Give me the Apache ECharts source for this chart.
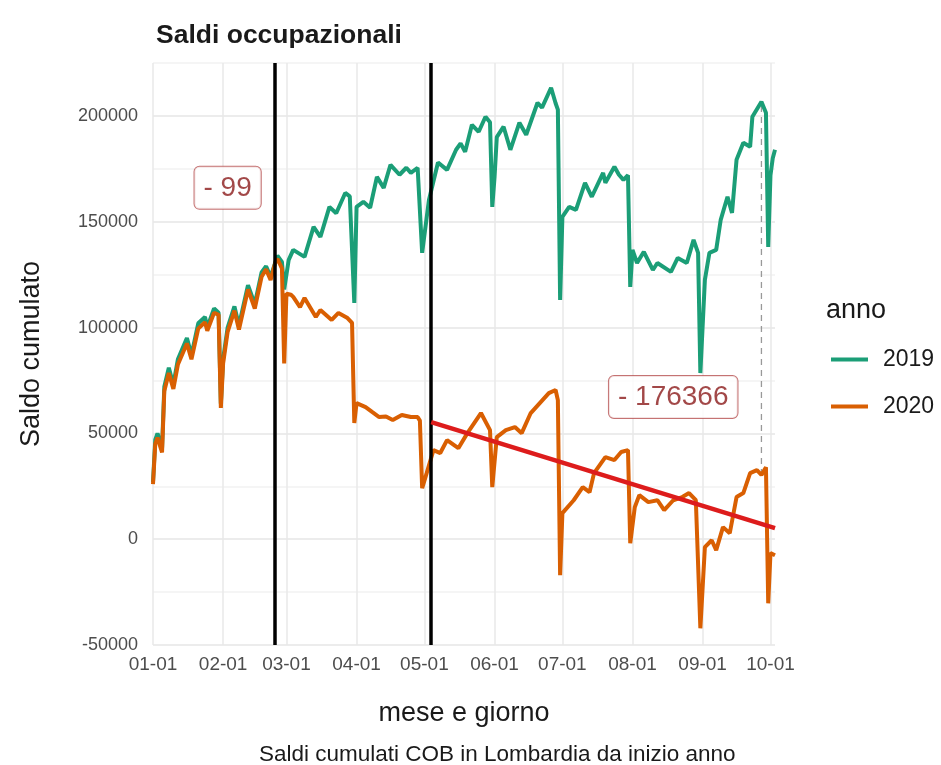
<!DOCTYPE html>
<html lang="it">
<head>
<meta charset="UTF-8" />
<title>Saldi occupazionali</title>
<script src="https://cdn.jsdelivr.net/npm/echarts@6/dist/echarts.min.js"></script>
<style>
  html, body { margin: 0; padding: 0; background: #fff; }
  #chart { width: 941px; height: 765px; }
</style>
</head>
<body>
<div id="chart"></div>
<script>
// giorni dell'anno (calendario non bisestile) fino al 3 ottobre
const monthLengths = [31, 28, 31, 30, 31, 30, 31, 31, 30, 31];
const pad = (n) => String(n).padStart(2, "0");
const days = [];
monthLengths.forEach((len, m) => {
  for (let d = 1; d <= len; d++) days.push(pad(m + 1) + "-" + pad(d));
});
days.length = days.indexOf("10-03") + 1;

// saldo cumulato 2019 [mese-giorno, valore]
const saldo2019 = [
  ["01-01", 27000], ["01-02", 47000], ["01-03", 50000], ["01-05", 43000], ["01-06", 72000],
  ["01-08", 81000], ["01-10", 73000], ["01-12", 85000], ["01-16", 95000], ["01-18", 87000],
  ["01-21", 102000], ["01-24", 105000], ["01-25", 100000], ["01-28", 109000], ["01-30", 107000],
  ["01-31", 64000], ["02-01", 85000], ["02-03", 100000], ["02-06", 110000], ["02-08", 101000],
  ["02-12", 120000], ["02-15", 111000], ["02-18", 126000], ["02-20", 129000], ["02-22", 124000],
  ["02-24", 130500], ["02-25", 134000], ["02-27", 131000], ["02-28", 118000], ["03-02", 132000],
  ["03-04", 136700], ["03-09", 133400], ["03-13", 147600], ["03-16", 142800], ["03-20", 157000],
  ["03-23", 154000], ["03-27", 163600], ["03-29", 162000], ["03-31", 111600], ["04-01", 157000],
  ["04-04", 159400], ["04-07", 156600], ["04-10", 171200], ["04-13", 166000], ["04-16", 176900],
  ["04-20", 172200], ["04-23", 175500], ["04-25", 173100], ["04-28", 175500], ["04-30", 135300],
  ["05-03", 160300], ["05-07", 178000], ["05-11", 174500], ["05-15", 184000], ["05-17", 187000],
  ["05-19", 183000], ["05-22", 195800], ["05-25", 192500], ["05-28", 199600], ["05-30", 197000],
  ["05-31", 157000], ["06-01", 171000], ["06-02", 190000], ["06-05", 194900], ["06-08", 184000],
  ["06-12", 196800], ["06-15", 191100], ["06-20", 206200], ["06-22", 203900], ["06-26", 213300],
  ["06-28", 206000], ["06-29", 203000], ["06-30", 113000], ["07-01", 152300], ["07-04", 157000],
  ["07-07", 155600], ["07-11", 168400], ["07-14", 161800], ["07-19", 173100], ["07-20", 168400],
  ["07-24", 176000], ["07-26", 172200], ["07-28", 169800], ["07-30", 172000], ["07-31", 119200],
  ["08-01", 136700], ["08-03", 130500], ["08-06", 135800], ["08-10", 127200], ["08-12", 130500],
  ["08-18", 126300], ["08-21", 132900], ["08-25", 130500], ["08-28", 141400], ["08-30", 135300],
  ["08-31", 78500], ["09-02", 122500], ["09-04", 135300], ["09-07", 136700], ["09-09", 150900],
  ["09-12", 161800], ["09-14", 154200], ["09-16", 179300], ["09-19", 187300], ["09-22", 185400],
  ["09-23", 199600], ["09-27", 206700], ["09-29", 201500], ["09-30", 138100], ["10-01", 172000],
  ["10-02", 180000], ["10-03", 184000]
];

// saldo cumulato 2020
const saldo2020 = [
  ["01-01", 26000], ["01-02", 45000], ["01-03", 48000], ["01-05", 41000], ["01-06", 70000],
  ["01-08", 78500], ["01-10", 71000], ["01-12", 82500], ["01-16", 92500], ["01-18", 85000],
  ["01-21", 99500], ["01-24", 102500], ["01-25", 98500], ["01-28", 107000], ["01-30", 106000],
  ["01-31", 62000], ["02-01", 83000], ["02-03", 98000], ["02-06", 108000], ["02-08", 99000],
  ["02-12", 118000], ["02-15", 109000], ["02-18", 124000], ["02-20", 127500], ["02-22", 122500],
  ["02-24", 130401], ["02-25", 132500], ["02-27", 128000], ["02-28", 83000], ["03-01", 116000],
  ["03-03", 115500], ["03-04", 114500], ["03-07", 109700], ["03-09", 114000], ["03-14", 105000],
  ["03-16", 108300], ["03-21", 103600], ["03-24", 106900], ["03-28", 104500], ["03-30", 102200],
  ["03-31", 54900], ["04-01", 64300], ["04-05", 62400], ["04-08", 60000], ["04-11", 57700],
  ["04-14", 58000], ["04-17", 56300], ["04-21", 58700], ["04-25", 57700], ["04-28", 57700],
  ["04-29", 56000], ["04-30", 24100], ["05-02", 31200], ["05-05", 42100], ["05-08", 40700],
  ["05-11", 46800], ["05-16", 43000], ["05-20", 50100], ["05-26", 59600], ["05-30", 51500],
  ["05-31", 24600], ["06-02", 48200], ["06-06", 51500], ["06-10", 53000], ["06-13", 50100],
  ["06-17", 59600], ["06-21", 64300], ["06-25", 69000], ["06-28", 70500], ["06-29", 65700],
  ["06-30", -17000], ["07-01", 12300], ["07-06", 18400], ["07-10", 24600], ["07-13", 22200],
  ["07-15", 31200], ["07-20", 38800], ["07-24", 37400], ["07-27", 41200], ["07-30", 42100],
  ["07-31", -1900], ["08-02", 15100], ["08-04", 20800], ["08-08", 17500], ["08-12", 18400],
  ["08-15", 13700], ["08-19", 18400], ["08-23", 19900], ["08-26", 21800], ["08-29", 18400],
  ["08-31", -42100], ["09-02", -3800], ["09-05", -500], ["09-07", -5200], ["09-10", 5700],
  ["09-13", 2800], ["09-16", 19900], ["09-19", 21800], ["09-22", 31200], ["09-25", 32600],
  ["09-27", 30334], ["09-29", 34000], ["09-30", -30300], ["10-01", -6600], ["10-03", -7600]
];

// retta di tendenza dal 4 maggio
const trendLine = [["05-04", 55300], ["10-03", 5200]];
// date delle linee verticali nere
const eventDays = ["02-24", "05-04"];
// confronto finale (linea tratteggiata)
const gapDay = "09-27";
// etichette
const noteDays = ["02-03", "08-19"];
const noteValues = [166000, 67200];
const noteTexts = ["- 99", "- 176366"];

const valueAt = (series, day) => series.find((p) => p[0] === day)[1];
const isMonthStart = (i, v) => v.slice(3) === "01";
const FONT = "Liberation Sans";

const chart = echarts.init(document.getElementById("chart"));
const option = {
  animation: false,
  backgroundColor: "#fff",
  textStyle: { fontFamily: FONT },
  title: [
    { text: "Saldi occupazionali", left: 151, top: 17,
      textStyle: { fontSize: 26.5, fontWeight: "bold", color: "#1a1a1a", fontFamily: FONT } },
    { text: "anno", left: 821, top: 292,
      textStyle: { fontSize: 27, fontWeight: "normal", color: "#1a1a1a", fontFamily: FONT } },
    { text: "Saldi cumulati COB in Lombardia da inizio anno", left: 254, top: 738,
      textStyle: { fontSize: 22.5, fontWeight: "normal", color: "#1a1a1a", fontFamily: FONT } }
  ],
  legend: {
    data: ["2019", "2020"],
    orient: "vertical",
    left: 826,
    top: 343,
    icon: "rect",
    itemWidth: 37,
    itemHeight: 4,
    itemGap: 24,
    textStyle: { fontSize: 23, color: "#1a1a1a", fontFamily: FONT, padding: [0, 0, 0, 10] }
  },
  grid: { left: 153, right: 166, top: 63, bottom: 120 },
  xAxis: {
    type: "category",
    data: days,
    boundaryGap: false,
    name: "mese e giorno",
    nameLocation: "middle",
    nameGap: 55,
    nameTextStyle: { fontSize: 27, color: "#1a1a1a", fontFamily: FONT },
    axisLine: { show: false },
    axisTick: { show: false },
    axisLabel: { interval: isMonthStart, fontSize: 19, color: "#4d4d4d", margin: 10, fontFamily: FONT },
    splitLine: { show: true, interval: isMonthStart, lineStyle: { color: "#e8e8e8", width: 1.5 } }
  },
  yAxis: {
    type: "value",
    min: -50000,
    max: 225000,
    interval: 25000,
    name: "Saldo cumulato",
    nameLocation: "middle",
    nameGap: 108,
    nameTextStyle: { fontSize: 27, color: "#1a1a1a", fontFamily: FONT },
    axisLine: { show: false },
    axisTick: { show: false },
    axisLabel: {
      formatter: (v) => (v % 50000 === 0 ? String(v) : ""),
      fontSize: 18, color: "#4d4d4d", margin: 15, fontFamily: FONT
    },
    splitLine: { lineStyle: { color: ["#e6e6e6", "#f2f2f2"], width: 1.5 } }
  },
  series: [
    {
      name: "2019", type: "line", data: saldo2019, color: "#1b9e77",
      showSymbol: false, lineStyle: { width: 4 }, z: 2, emphasis: { disabled: true }
    },
    {
      name: "2020", type: "line", data: saldo2020, color: "#d95f02",
      showSymbol: false, lineStyle: { width: 4 }, z: 3, emphasis: { disabled: true }
    },
    {
      name: "gap", type: "line", color: "#999",
      data: [[gapDay, valueAt(saldo2020, gapDay)], [gapDay, valueAt(saldo2019, gapDay)]],
      showSymbol: false, lineStyle: { width: 1.3, type: [6, 5] }, z: 1, emphasis: { disabled: true }
    },
    {
      name: "trend", type: "line", data: trendLine, color: "#dd1c1c",
      showSymbol: false, lineStyle: { width: 4.5 }, z: 5, emphasis: { disabled: true },
      markLine: {
        silent: true,
        symbol: ["none", "none"],
        label: { show: false },
        lineStyle: { color: "#000", width: 3.5, type: "solid" },
        data: eventDays.map((d) => ({ xAxis: d }))
      }
    },
    {
      name: "note", type: "scatter", z: 10, symbolSize: 1,
      itemStyle: { color: "rgba(0,0,0,0)" },
      data: noteDays.map((d, i) => [d, noteValues[i]]),
      label: {
        show: true,
        position: "inside",
        formatter: (p) => noteTexts[p.dataIndex],
        fontSize: 28,
        color: "#8b1a1a",
        fontFamily: FONT,
        backgroundColor: "#fff",
        borderColor: "#b65050",
        borderWidth: 1,
        borderRadius: 5,
        padding: [8, 9, 6, 9]
      },
      emphasis: { disabled: true }
    }
  ]
};
chart.setOption(option);
</script>
</body>
</html>
